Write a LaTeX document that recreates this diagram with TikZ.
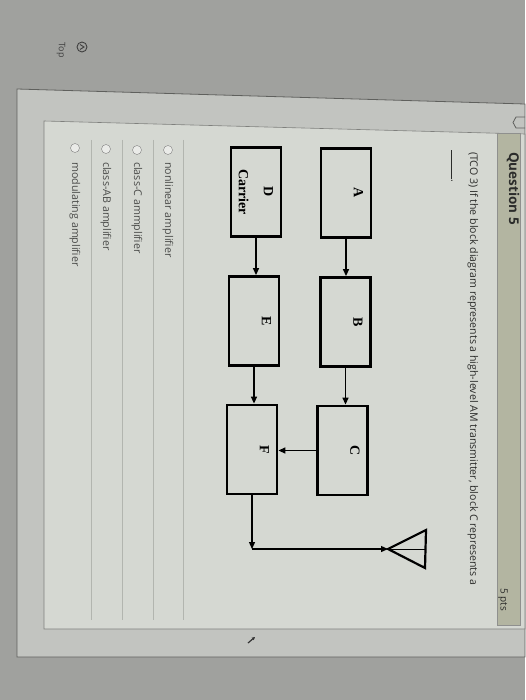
\documentclass[tikz,border=0pt]{standalone}
\usepackage{fontspec}
\setmainfont{Open Sans}
\newfontfamily\blockfont{Liberation Serif}
\usetikzlibrary{arrows.meta}
\definecolor{deskgray}{HTML}{A0A19E}
\definecolor{pagegray}{HTML}{C2C4C0}
\definecolor{panelgray}{HTML}{D5D8D2}
\definecolor{bandgray}{HTML}{B3B5A1}
\definecolor{rulegray}{HTML}{5F605D}
\definecolor{sepgray}{HTML}{B2B5AF}
\definecolor{inkgray}{HTML}{2B2C2A}

\begin{document}
\begin{tikzpicture}[x=1pt,y=-1pt,
    block/.style={draw,line width=2.8pt,rotate=-90,minimum width=89pt,minimum height=50pt,
        inner sep=2pt,align=center,font=\blockfont\bfseries\fontsize{14}{17}\selectfont},
    link/.style={line width=1.3pt,-{Triangle[length=7pt,width=6pt]}},
    sidetext/.style={rotate=-90,anchor=west,text=inkgray,inner sep=0pt},
    choice/.style={sidetext,font=\fontsize{10.7}{12}\selectfont,text=inkgray!85},
    radio/.style={circle,draw=gray,fill=panelgray!50!white,minimum size=9pt,inner sep=0pt}]
    \useasboundingbox (0,0) rectangle (525,700);
    % screen and page
    \fill[deskgray] (0,0) rectangle (525,700);
    \filldraw[fill=pagegray,draw=rulegray,line width=0.8pt] (17,89) -- (525,104) -- (525,657) -- (17,657) -- cycle;
    \filldraw[fill=panelgray,draw=rulegray!80,line width=0.6pt] (44,121) -- (525,134) -- (525,629) -- (44,629) -- cycle;
    \filldraw[fill=bandgray,draw=rulegray!70,line width=0.5pt] (497,133.5) rectangle (520,625);
    \draw[rulegray,line width=0.8pt] (525,117) -- (516,117) -- (513,122.5) -- (516,128) -- (525,128);
    \foreach \sx in {183,153,122,91}
        \draw[sepgray,line width=0.5pt] (\sx,140) -- (\sx,620);
    % top link
    \node (topicon) [circle,draw=darkgray,line width=0.9pt,minimum size=10pt,inner sep=0pt] at (82,47) {};
    \draw[darkgray,line width=0.9pt] (80,44.5) -- (84,47) -- (80,49.5);
    \node (toplabel) [sidetext,anchor=center,font=\fontsize{9}{10}\selectfont,text=darkgray] at (61,50) {Top};
    % header and question
    \node (qtitle) [sidetext,font=\bfseries\fontsize{13.5}{15}\selectfont] at (513,152) {Question 5};
    \node (qpts) [sidetext,anchor=east,font=\fontsize{10}{12}\selectfont] at (503,611) {5 pts};
    \node (qtext) [sidetext,font=\fontsize{10.6}{12}\selectfont] at (473,152)
        {(TCO 3) If the block diagram represents a high-level AM transmitter, block C represents a};
    \node (qblank) [sidetext,font=\fontsize{10.6}{12}\selectfont] at (452,150) {\rule{29pt}{0.5pt}.};
    % blocks
    \node (A) [block] at (346,193) {A\\[8pt]\mbox{}};
    \node (B) [block] at (345.5,322) {B\\[8pt]\mbox{}};
    \node (C) [block] at (342.5,450.5) {C\\[8pt]\mbox{}};
    \node (D) [block] at (256,192) {D\\[8pt]Carrier};
    \node (E) [block] at (254,321) {E\\[8pt]\mbox{}};
    \node (F) [block] at (252,449.5) {F\\[8pt]\mbox{}};
    \draw[link] (A.east) -- (A.east |- B.west);
    \draw[link] (B.east) -- (B.east |- C.west);
    \draw[link] (D.east) -- (D.east |- E.west);
    \draw[link] (E.east) -- (E.east |- F.west);
    \draw[link] (C.south) -- (C.south -| F.north);
    % antenna
    \coordinate (ant) at (388,549);
    \coordinate (feed) at (F.east |- ant);
    \draw[link] (F.east) -- (feed);
    \draw[link] (feed) -- (ant);
    \draw[line width=2.2pt,line join=miter] (ant) -- (426,530) -- (425,568) -- cycle;
    \draw[line width=0.6pt] (ant) -- (425.5,549);
    % answers
    \node (r1) [radio] at (168,150) {};
    \node (r2) [radio] at (137,150) {};
    \node (r3) [radio] at (106,149) {};
    \node (r4) [radio] at (75,148) {};
    \node (a1) [choice] at (168,162) {nonlinear amplifier};
    \node (a2) [choice] at (137,162) {class-C ammplifier};
    \node (a3) [choice] at (106,162) {class-AB amplifier};
    \node (a4) [choice] at (75,162) {modulating amplifier};
    % pointer
    \draw[black!80,line width=1.2pt,-{Triangle[length=3pt,width=3pt]}] (248,643) -- (255,637);
\end{tikzpicture}
\end{document}
